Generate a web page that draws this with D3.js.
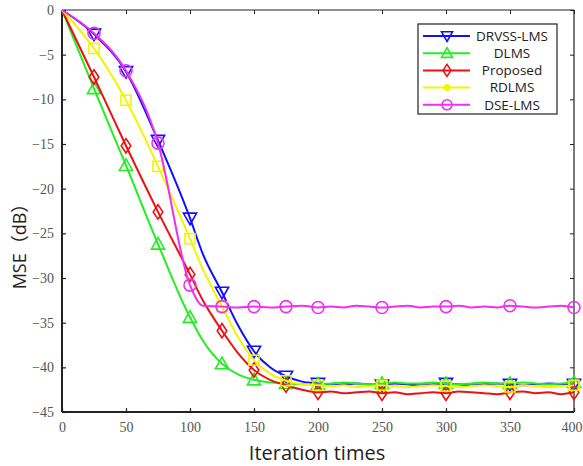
<!DOCTYPE html>
<html><head><meta charset="utf-8">
<script src="https://cdn.jsdelivr.net/npm/d3@7"></script>
<style>body{margin:0;background:#fff}svg{display:block}</style>
</head><body>
<svg id="c" width="583" height="466"></svg>
<script>
const iters = [0,25,50,75,100,110,125,137.5,150,162.5,175,187.5,200,210,220,230,240,250,260,270,280,290,300,310,320,330,340,350,360,370,380,390,400];
const seriesNames = ["DRVSS-LMS","DLMS","Proposed","RDLMS","DSE-LMS"];
const drvss = [0,-2.7,-6.9,-14.6,-23.3,-27.3,-31.6,-35.3,-38.2,-40.0,-41.0,-41.6,-41.8,-42.0,-41.9,-41.8,-41.9,-42.0,-41.8,-41.9,-42.0,-41.9,-41.8,-41.9,-42.0,-41.9,-41.8,-41.9,-42.0,-41.9,-41.8,-41.9,-41.9];
const dlms = [0,-8.8,-17.4,-26.2,-34.4,-37.0,-39.6,-40.8,-41.4,-41.7,-41.8,-41.9,-41.9,-41.8,-41.7,-41.8,-41.9,-41.8,-41.7,-41.8,-41.8,-41.7,-41.8,-41.9,-41.8,-41.7,-41.8,-41.8,-41.7,-41.8,-41.9,-41.8,-41.7];
const proposed = [0,-7.5,-15.2,-22.6,-29.6,-32.5,-35.9,-38.4,-40.3,-41.4,-42.0,-42.5,-42.8,-42.7,-42.9,-42.8,-42.7,-42.9,-42.8,-43.0,-42.9,-42.8,-42.9,-42.7,-42.8,-42.9,-43.0,-42.8,-42.7,-42.9,-42.8,-43.0,-42.8];
const rdlms = [0,-4.3,-10.1,-17.5,-25.6,-29.0,-33.2,-36.6,-39.2,-40.7,-41.5,-41.9,-42.0,-42.1,-42.0,-42.2,-42.1,-42.0,-42.1,-42.2,-42.1,-42.0,-42.1,-42.2,-42.1,-42.0,-42.1,-42.2,-42.0,-42.1,-42.2,-42.1,-42.0];
const dselms = [0,-2.6,-6.8,-14.9,-30.8,-33.1,-33.2,-33.3,-33.2,-33.3,-33.2,-33.1,-33.3,-33.2,-33.3,-33.1,-33.2,-33.3,-33.2,-33.1,-33.3,-33.2,-33.2,-33.1,-33.3,-33.2,-33.3,-33.1,-33.2,-33.3,-33.2,-33.1,-33.3];
const xTicks = [0,50,100,150,200,250,300,350,400];
const yTicks = [0,-5,-10,-15,-20,-25,-30,-35,-40,-45];

const colors = ["#1010ff","#22ee22","#ee1111","#f4f400","#f030f0"];
const shapes = ["tridown","triup","diamond","square","circle"];
const values = [drvss,dlms,proposed,rdlms,dselms];

const svg = d3.select("#c");
const L=62,R=574,T=10,B=412;
const x = d3.scaleLinear().domain([0,400]).range([L,R]);
const y = d3.scaleLinear().domain([-45,0]).range([B,T]);

svg.append("line").attr("x1",L).attr("x2",R).attr("y1",T).attr("y2",T).attr("stroke","#222").attr("stroke-width",1.2);
svg.append("line").attr("x1",R).attr("x2",R).attr("y1",T).attr("y2",B).attr("stroke","#222").attr("stroke-width",1.2);
svg.append("g").attr("transform",`translate(0,${T})`).call(d3.axisBottom(x).tickValues(xTicks).tickSize(4).tickFormat("")).call(g=>g.select(".domain").remove()).selectAll("line").attr("stroke","#222");
svg.append("g").attr("transform",`translate(${R},0)`).call(d3.axisLeft(y).tickValues(yTicks).tickSize(4).tickFormat("")).call(g=>g.select(".domain").remove()).selectAll("line").attr("stroke","#222");

const serif = "'Liberation Serif','DejaVu Serif',serif";
const gx = svg.append("g").attr("transform",`translate(0,${B})`)
  .call(d3.axisTop(x).tickValues(xTicks).tickSize(4).tickFormat(d3.format("d")));
gx.select(".domain").remove();
gx.selectAll("line").attr("stroke","#222").attr("stroke-width",1.2);
gx.selectAll("text").attr("y",10).attr("dy","0.71em").attr("font-family",serif).attr("font-size",14).attr("fill","#555")
  .filter(d=>d===400).attr("text-anchor","end").attr("x",8);
const gy = svg.append("g").attr("transform",`translate(${L},0)`)
  .call(d3.axisRight(y).tickValues(yTicks).tickSize(4).tickFormat(d3.format("d")));
gy.select(".domain").remove();
gy.selectAll("line").attr("stroke","#222").attr("stroke-width",1.2);
gy.selectAll("text").attr("x",-8).attr("text-anchor","end").attr("font-family",serif).attr("font-size",14).attr("fill","#555");

svg.append("line").attr("x1",L).attr("x2",R).attr("y1",B).attr("y2",B).attr("stroke","#222").attr("stroke-width",2);
svg.append("line").attr("x1",L).attr("x2",L).attr("y1",T).attr("y2",B).attr("stroke","#222").attr("stroke-width",2);

function marker(g, shape, cx, cy, color, size){
  const s=size;
  let el;
  if(shape==="circle") el=g.append("circle").attr("cx",cx).attr("cy",cy).attr("r",s*0.5);
  else if(shape==="square") el=g.append("rect").attr("x",cx-s*0.42).attr("y",cy-s*0.42).attr("width",s*0.84).attr("height",s*0.84);
  else if(shape==="diamond") el=g.append("path").attr("d",`M${cx},${cy-s*0.6}L${cx+s*0.4},${cy}L${cx},${cy+s*0.6}L${cx-s*0.4},${cy}Z`);
  else if(shape==="triup") el=g.append("path").attr("d",`M${cx},${cy-s*0.55}L${cx+s*0.55},${cy+s*0.42}L${cx-s*0.55},${cy+s*0.42}Z`);
  else el=g.append("path").attr("d",`M${cx},${cy+s*0.55}L${cx+s*0.55},${cy-s*0.42}L${cx-s*0.55},${cy-s*0.42}Z`);
  el.attr("fill","none").attr("stroke",color).attr("stroke-width",1.6);
}

const line = d3.line().x(d=>x(d[0])).y(d=>y(d[1])).curve(d3.curveMonotoneX);
const plot = svg.append("g");
values.forEach((vals,i)=>{
  const pts = iters.map((it,k)=>[it,vals[k]]);
  plot.append("path").datum(pts).attr("d",line).attr("fill","none").attr("stroke",colors[i]).attr("stroke-width",2);
  const mg = plot.append("g");
  pts.filter(p=>p[0]>0 && p[0]%25===0).forEach(p=>marker(mg,shapes[i],x(p[0]),y(p[1]),colors[i],12));
});

const lg = svg.append("g");
lg.append("rect").attr("x",418).attr("y",24).attr("width",139).attr("height",90).attr("fill","#fff").attr("stroke","#222").attr("stroke-width",1.2);
seriesNames.forEach((n,i)=>{
  const ly = 36 + i*17.2;
  lg.append("line").attr("x1",423).attr("x2",470).attr("y1",ly).attr("y2",ly).attr("stroke",colors[i]).attr("stroke-width",2);
  if(shapes[i]==="square") lg.append("circle").attr("cx",447).attr("cy",ly).attr("r",3.5).attr("fill",colors[i]);
  else marker(lg,shapes[i],447,ly,colors[i],10);
  lg.append("text").attr("x",512).attr("y",ly).attr("dy","0.35em").attr("text-anchor","middle")
    .attr("font-family","'Open Sans','Noto Sans',sans-serif").attr("font-size",13.5).attr("fill","#222").text(n);
});

svg.append("text").attr("x",317).attr("y",460).attr("text-anchor","middle")
  .attr("font-family","'Open Sans','Noto Sans CJK SC',sans-serif").attr("font-size",20).attr("fill","#222").text("Iteration times");
svg.append("text").attr("transform","translate(26,242) rotate(-90)").attr("text-anchor","middle")
  .attr("font-family","'Open Sans','Noto Sans CJK SC',sans-serif").attr("font-size",18).attr("fill","#222").text("MSE（dB）");
</script>
</body></html>
